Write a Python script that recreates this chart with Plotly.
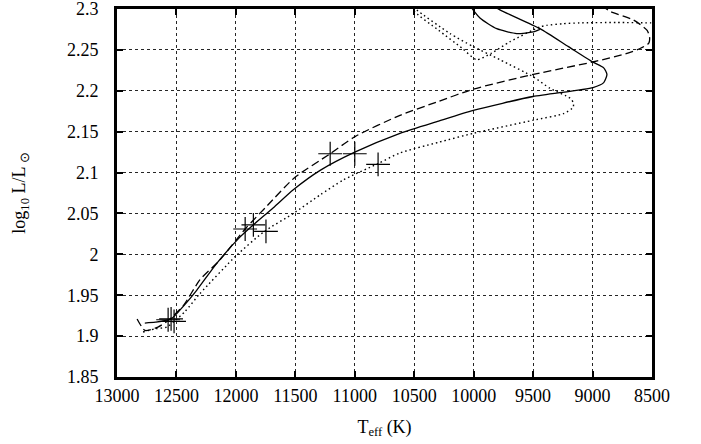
import plotly.graph_objects as go

# ---- data ----
solid_T = [12766, 12677, 12545, 12439, 12330, 12161, 11966, 11853, 11685, 11517, 11288, 11000,
           10620, 10295, 10003, 9501, 8996, 8906, 8879, 8906, 8996, 9203, 9443, 9779, 9900,
           9960, 10040, 10031, 9947, 9806, 9638, 9499, 9443]
solid_L = [1.916, 1.917, 1.921, 1.937, 1.956, 1.989, 2.021, 2.036, 2.057, 2.079, 2.103, 2.125,
           2.148, 2.163, 2.176, 2.193, 2.204, 2.210, 2.220, 2.228, 2.235, 2.254, 2.276, 2.299, 2.310,
           2.320, 2.320, 2.305, 2.289, 2.276, 2.270, 2.272, 2.275]

dashed_T = [12831, 12765, 12656, 12570, 12439, 12302, 12135, 11922, 11733, 11505, 11207, 10998,
            10620, 10295, 10003, 9498, 8989, 8703, 8597, 8528, 8520, 8541, 8656, 8850, 8900, 8950]
dashed_L = [1.921, 1.907, 1.911, 1.919, 1.938, 1.969, 1.993, 2.031, 2.060, 2.094, 2.123, 2.144,
            2.170, 2.187, 2.202, 2.220, 2.2355, 2.246, 2.252, 2.258, 2.265, 2.274, 2.2865, 2.297, 2.302, 2.310]

dotted_T = [12781, 12677, 12581, 12520, 12428, 12302, 11993, 11761, 11517, 11288, 11096, 10804,
            10620, 10295, 10003, 9498, 9246, 9162, 9164, 9189, 9358, 9498, 9779, 10003, 10199,
            10480, 10520, 10560, 10540, 10511, 10295, 10097, 9975, 9849, 9695, 9443, 9387, 9250,
            9106, 8800, 8508, 8400]
dotted_L = [1.905, 1.909, 1.911, 1.918, 1.930, 1.952, 1.999, 2.028, 2.050, 2.073, 2.091, 2.111,
            2.124, 2.137, 2.148, 2.164, 2.172, 2.180, 2.186, 2.191, 2.203, 2.217, 2.238, 2.254, 2.270,
            2.299, 2.305, 2.315, 2.315, 2.299, 2.274, 2.252, 2.238, 2.246, 2.260, 2.278, 2.280, 2.282,
            2.283, 2.2835, 2.283, 2.283]

mark_solid_T = [12545, 11853, 11000]
mark_solid_L = [1.921, 2.036, 2.123]
mark_dashed_T = [12570, 11922, 11207]
mark_dashed_L = [1.920, 2.031, 2.123]
mark_dotted_T = [12520, 11747, 10804]
mark_dotted_L = [1.918, 2.028, 2.110]

x_ticks = [13000, 12500, 12000, 11500, 11000, 10500, 10000, 9500, 9000, 8500]
y_ticks = [1.85, 1.9, 1.95, 2.0, 2.05, 2.1, 2.15, 2.2, 2.25, 2.3]
y_tick_text = ["1.85", "1.9", "1.95", "2", "2.05", "2.1", "2.15", "2.2", "2.25", "2.3"]

fig = go.Figure()
fig.add_trace(go.Scatter(x=solid_T, y=solid_L, mode="lines",
                         line=dict(color="black", width=1.3, shape="spline", smoothing=0.6),
                         showlegend=False))
fig.add_trace(go.Scatter(x=dashed_T, y=dashed_L, mode="lines",
                         line=dict(color="black", width=1.3, dash="8px,4px", shape="spline", smoothing=0.6),
                         showlegend=False))
fig.add_trace(go.Scatter(x=dotted_T, y=dotted_L, mode="lines",
                         line=dict(color="black", width=1.4, dash="1.5px,3px", shape="spline", smoothing=0.6),
                         showlegend=False))
for mx, my in [(mark_solid_T, mark_solid_L), (mark_dashed_T, mark_dashed_L), (mark_dotted_T, mark_dotted_L)]:
    fig.add_trace(go.Scatter(x=mx, y=my, mode="markers",
                             marker=dict(symbol="cross-thin", size=17, line=dict(color="black", width=1.2)),
                             showlegend=False))

font = dict(family="Times New Roman, Liberation Serif, serif", size=18, color="black")
fig.update_layout(
    width=701, height=444,
    margin=dict(l=117, r=49, t=9, b=67, pad=0),
    paper_bgcolor="white", plot_bgcolor="white",
    font=font,
    xaxis=dict(range=[13000, 8500], tickvals=x_ticks, ticktext=[str(v) for v in x_ticks],
               showgrid=True, gridcolor="rgba(0,0,0,0.85)", gridwidth=1, griddash="3px,3px",
               showline=True, linecolor="black", linewidth=3, mirror="ticks",
               ticks="inside", ticklen=6, tickwidth=2, tickcolor="black",
               zeroline=False, automargin=False, tickfont=font, ticklabeloverflow="allow",
               title=dict(text="T<sub>eff</sub> (K)", font=font, standoff=16)),
    yaxis=dict(range=[1.85, 2.3], tickvals=y_ticks, ticktext=y_tick_text,
               showgrid=True, gridcolor="rgba(0,0,0,0.85)", gridwidth=1, griddash="3px,3px",
               showline=True, linecolor="black", linewidth=3, mirror="ticks",
               ticks="inside", ticklen=6, tickwidth=2, tickcolor="black",
               zeroline=False, automargin=False, ticklabelstandoff=12, tickfont=font,
               ticklabeloverflow="allow",
               title=dict(text="log<sub>10</sub> L/L<sub> ⊙</sub>", font=font, standoff=37)),
)
fig.write_html("out.html")
